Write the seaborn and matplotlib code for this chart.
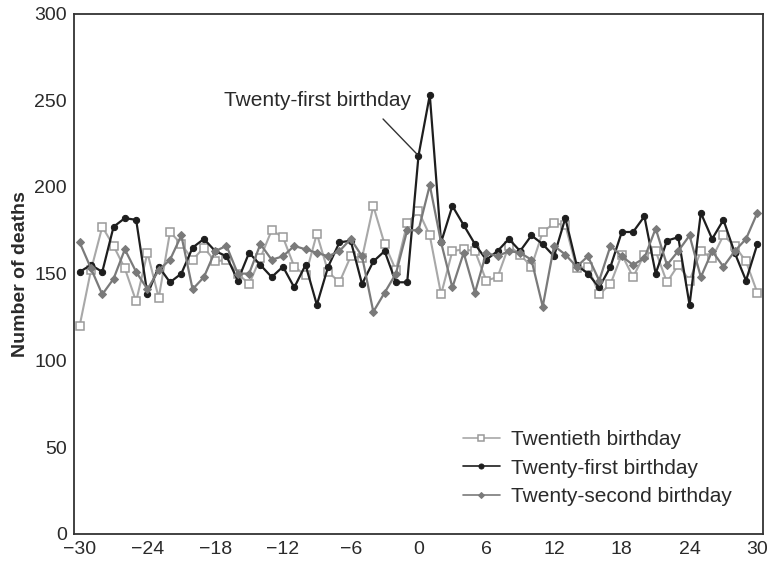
import numpy as np
import pandas as pd
import matplotlib
matplotlib.use("Agg")
import matplotlib.pyplot as plt
import seaborn as sns

days = list(range(-30, 31))

twentieth = [120, 152, 177, 166, 153, 134, 162, 136, 174, 167,
             158, 165, 157, 158, 150, 144, 159, 175, 171, 154,
             149, 173, 151, 145, 160, 159, 189, 167, 152, 179,
             186, 172, 138, 163, 164, 163, 146, 148, 166, 161,
             154, 174, 179, 178, 153, 154, 138, 144, 161, 148,
             161, 163, 145, 155, 146, 163, 159, 172, 166, 157,
             139]

twenty_first = [151, 155, 151, 177, 182, 181, 138, 154, 145, 150,
                165, 170, 163, 160, 146, 162, 155, 148, 154, 142,
                155, 132, 154, 168, 169, 144, 157, 163, 145, 145,
                218, 253, 168, 189, 178, 167, 158, 163, 170, 163,
                172, 167, 160, 182, 155, 150, 142, 154, 174, 174,
                183, 150, 169, 171, 132, 185, 170, 181, 162, 146,
                167]

twenty_second = [168, 153, 138, 147, 164, 151, 141, 152, 158, 172,
                 141, 148, 163, 166, 150, 150, 167, 158, 160, 166,
                 164, 162, 160, 163, 170, 160, 128, 139, 150, 175,
                 175, 201, 168, 142, 162, 139, 162, 160, 163, 162,
                 158, 131, 166, 161, 154, 160, 146, 166, 160, 155,
                 159, 176, 155, 163, 172, 148, 163, 154, 163, 170,
                 185]

series_labels = ["Twentieth birthday", "Twenty-first birthday", "Twenty-second birthday"]
x_ticks = [-30, -24, -18, -12, -6, 0, 6, 12, 18, 24, 30]
y_ticks = [0, 50, 100, 150, 200, 250, 300]

df = pd.DataFrame({"day": days, series_labels[0]: twentieth,
                   series_labels[1]: twenty_first, series_labels[2]: twenty_second})
long = df.melt(id_vars="day", var_name="series", value_name="deaths")

sns.set_theme(style="white")
plt.rcParams["font.family"] = ["Liberation Sans", "DejaVu Sans"]

fig = plt.figure(figsize=(7.76, 5.63), dpi=100)
ax = fig.add_axes([0.0954, 0.052, 0.8878, 0.924])

styles = {
    series_labels[0]: dict(color="#a8a8a8", marker="s", markersize=5.5, markerfacecolor="white",
                           markeredgecolor="#9a9a9a", markeredgewidth=1.1, linewidth=1.5),
    series_labels[1]: dict(color="#1e1e1e", marker="o", markersize=4.5, markerfacecolor="#1e1e1e",
                           markeredgecolor="#1e1e1e", linewidth=1.6),
    series_labels[2]: dict(color="#7a7a7a", marker="D", markersize=3.8, markerfacecolor="#7a7a7a",
                           markeredgecolor="#7a7a7a", linewidth=1.6),
}
for name in series_labels:
    sub = long[long["series"] == name]
    sns.lineplot(data=sub, x="day", y="deaths", ax=ax, label=name, **styles[name])

ax.set_xlim(-30.5, 30.5)
ax.set_ylim(0, 300)
ax.set_xticks(x_ticks)
ax.set_xticklabels([str(t).replace("-", "\u2212") for t in x_ticks])
ax.set_yticks(y_ticks)
ax.tick_params(direction="in", length=5, width=1.0, colors="#333333",
               labelsize=14, labelcolor="#2a2a2a", pad=5)
ax.set_xlabel("")
ax.set_ylabel("Number of deaths", fontsize=14, fontweight="bold", color="#2a2a2a", labelpad=4)
for s in ax.spines.values():
    s.set_color("#333333")
    s.set_linewidth(1.3)

peak_day = 0
peak_val = twenty_first[days.index(peak_day)]
ax.annotate("Twenty-first birthday", xy=(peak_day, peak_val), xytext=(-8.9, 250),
            ha="center", va="center", fontsize=15, color="#2a2a2a",
            arrowprops=dict(arrowstyle="-", color="#333333", lw=1.0,
                            shrinkA=6, shrinkB=1, relpos=(0.8, 0.0)))

leg = ax.legend(loc="lower left", frameon=False, fontsize=15, handlelength=1.8,
                handletextpad=0.5, labelspacing=0.45, borderpad=0.2, borderaxespad=0.0,
                bbox_to_anchor=(0.558, 0.045), labelcolor="#2a2a2a")
for h in leg.legend_handles:
    h.set_linewidth(1.2)
    h.set_markersize(h.get_markersize() * 0.8)

fig.savefig("out.png", dpi=100)
